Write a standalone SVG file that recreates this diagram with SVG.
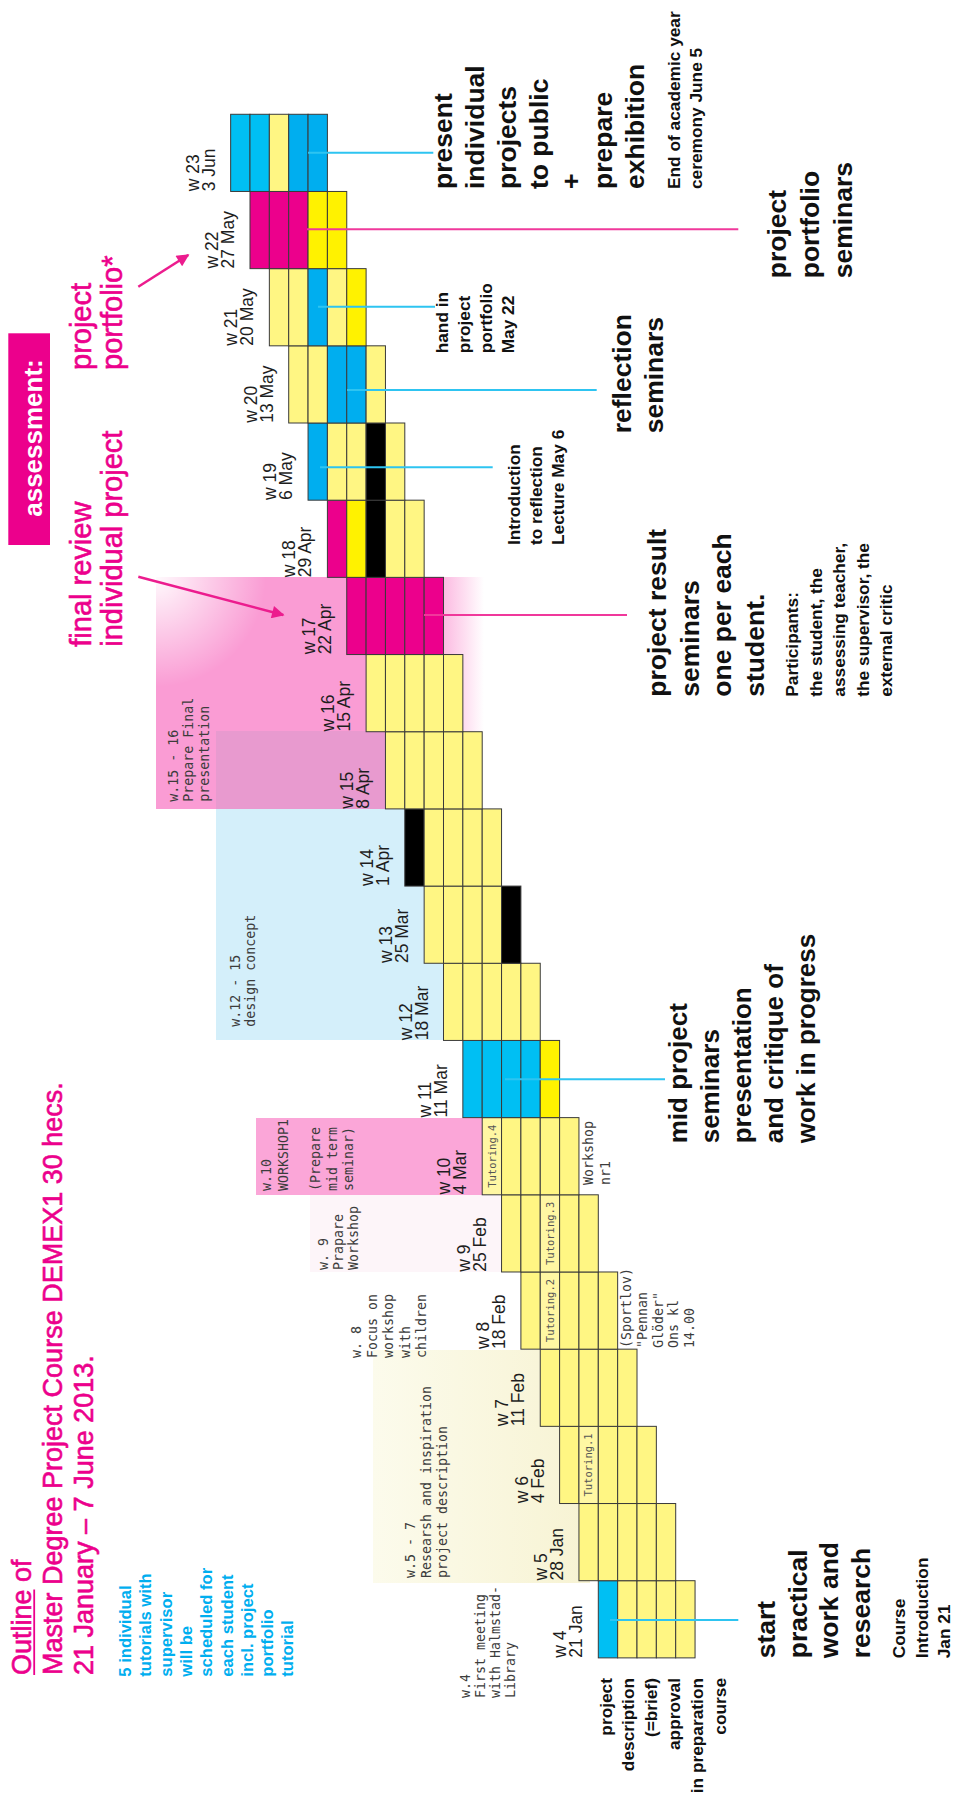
<svg xmlns="http://www.w3.org/2000/svg" width="953" height="1803" viewBox="0 0 953 1803">
<defs>
<style>
.c{stroke:#3a3a3a;stroke-width:1}
.ly{fill:#FFF683}.by{fill:#FFF200}.mg{fill:#EC008C}.cy{fill:#00BFF3}.bl{fill:#00AEEF}.bk{fill:#000}.tu{fill:#FFF7A3}
.wk{font-family:"Liberation Sans",Arial,sans-serif;font-size:17.5px;fill:#1e1e1e}
.mono{font-family:"DejaVu Sans Mono","Liberation Mono",monospace;font-size:13.3px;fill:#3c3c3c}
.tut{font-family:"DejaVu Sans Mono","Liberation Mono",monospace;font-size:10.5px;fill:#555;text-anchor:middle}
.big{font-family:"Liberation Sans",Arial,sans-serif;font-weight:bold;font-size:26.5px;fill:#111}
.sm{font-family:"Liberation Sans",Arial,sans-serif;font-weight:bold;font-size:17.3px;fill:#111}
.mag{font-family:"Liberation Sans",Arial,sans-serif;font-size:29px;fill:#EC008C;stroke:#EC008C;stroke-width:0.6}
.ttl{font-family:"Liberation Sans",Arial,sans-serif;font-size:27px;fill:#EC008C;stroke:#EC008C;stroke-width:0.6}
.blu{font-family:"Liberation Sans",Arial,sans-serif;font-weight:bold;font-size:16.6px;fill:#00AEEF}
.cc{stroke:#2EC4F1;stroke-width:2;fill:none}
.cm{stroke:#F0389B;stroke-width:2;fill:none}
.arr{stroke:#EC1C8E;stroke-width:2.5;fill:none}
</style>
<linearGradient id="pinkFade" gradientUnits="userSpaceOnUse" x1="156" y1="0" x2="484" y2="0">
<stop offset="0" stop-color="#FA9CD4"/>
<stop offset="0.82" stop-color="#FA9CD4"/>
<stop offset="1" stop-color="#FA9CD4" stop-opacity="0"/>
</linearGradient>
<radialGradient id="glow" gradientUnits="userSpaceOnUse" cx="156" cy="577" r="110">
<stop offset="0" stop-color="#fff" stop-opacity="0.95"/>
<stop offset="1" stop-color="#fff" stop-opacity="0"/>
</radialGradient>
<linearGradient id="cream" gradientUnits="userSpaceOnUse" x1="373" y1="0" x2="590" y2="0">
<stop offset="0" stop-color="#FCFBEC"/>
<stop offset="1" stop-color="#F7F3D3"/>
</linearGradient>
<marker id="ah" viewBox="0 0 10 10" refX="9" refY="5" markerWidth="6.5" markerHeight="5" orient="auto">
<path d="M0,0 L10,5 L0,10 Z" fill="#EC1C8E"/>
</marker>
</defs>
<rect width="953" height="1803" fill="#fff"/>

<g id="panels">
<rect x="216" y="731" width="229" height="309" fill="#D4EFFA"/>
<rect x="156" y="577" width="328" height="232" fill="url(#pinkFade)"/>
<rect x="156" y="577" width="180" height="150" fill="url(#glow)"/>
<rect x="216" y="731" width="229" height="78" fill="#E89ACF"/>
<rect x="256" y="1118" width="227" height="77" fill="#FBA6D8"/>
<rect x="310" y="1195" width="192" height="77" fill="#FDF5F9"/>
<rect x="373" y="1350" width="217" height="233" fill="url(#cream)"/>
</g>

<g id="panel-notes">
<text class="mono" transform="translate(178,801.7) rotate(-90)"><tspan x="0" y="0">w.15 - 16</tspan><tspan x="0" y="15">Prepare Final</tspan><tspan x="0" y="31">presentation</tspan></text>
<text class="mono" transform="translate(240,1026.7) rotate(-90)"><tspan x="0" y="0">w.12 - 15</tspan><tspan x="0" y="14.5">design concept</tspan></text>
<text class="mono" transform="translate(271,1191) rotate(-90)"><tspan x="0" y="0">w.10</tspan><tspan x="0" y="16.5">WORKSHOP1</tspan><tspan x="0" y="49">(Prepare</tspan><tspan x="0" y="65.5">mid term</tspan><tspan x="0" y="82">seminar)</tspan></text>
<text class="mono" transform="translate(328,1270) rotate(-90)"><tspan x="0" y="0">w. 9</tspan><tspan x="0" y="15">Prapare</tspan><tspan x="0" y="30">Workshop</tspan></text>
<text class="mono" transform="translate(361,1358) rotate(-90)"><tspan x="0" y="0">w. 8</tspan><tspan x="0" y="16.2">Focus on</tspan><tspan x="0" y="32.4">workshop</tspan><tspan x="0" y="48.6">with</tspan><tspan x="0" y="64.8">children</tspan></text>
<text class="mono" transform="translate(415,1578) rotate(-90)"><tspan x="0" y="0">w.5 - 7</tspan><tspan x="0" y="16">Researsh and inspiration</tspan><tspan x="0" y="32">project description</tspan></text>
<text class="mono" transform="translate(470,1698) rotate(-90)"><tspan x="0" y="0">w.4</tspan><tspan x="0" y="15">First meeting</tspan><tspan x="0" y="30">with Halmstad-</tspan><tspan x="0" y="45">Library</tspan></text>
<text class="mono" transform="translate(593,1185) rotate(-90)"><tspan x="0" y="0">Workshop</tspan><tspan x="0" y="17">nr1</tspan></text>
<text class="mono" transform="translate(631,1348) rotate(-90)"><tspan x="0" y="0">(Sportlov)</tspan><tspan x="0" y="15.8">"Pennan</tspan><tspan x="0" y="31.6">Glöder"</tspan><tspan x="0" y="47.4">Ons kl</tspan><tspan x="0" y="63.2">14.00</tspan></text>
</g>

<g id="w4" transform="translate(598.3,1580.7)">
<rect class="c cy" x="0" y="0" width="19.35" height="77.18"/><rect class="c ly" x="19.35" y="0" width="19.35" height="77.18"/><rect class="c ly" x="38.7" y="0" width="19.35" height="77.18"/><rect class="c ly" x="58.05" y="0" width="19.35" height="77.18"/><rect class="c ly" x="77.4" y="0" width="19.35" height="77.18"/>
<text class="wk" transform="translate(-32,77) rotate(-90)">w 4</text><text class="wk" transform="translate(-16,77) rotate(-90)">21 Jan</text>
</g>
<g id="w5" transform="translate(578.95,1503.52)">
<rect class="c ly" x="0" y="0" width="19.35" height="77.18"/><rect class="c ly" x="19.35" y="0" width="19.35" height="77.18"/><rect class="c ly" x="38.7" y="0" width="19.35" height="77.18"/><rect class="c ly" x="58.05" y="0" width="19.35" height="77.18"/><rect class="c ly" x="77.4" y="0" width="19.35" height="77.18"/>
<text class="wk" transform="translate(-32,77) rotate(-90)">w 5</text><text class="wk" transform="translate(-16,77) rotate(-90)">28 Jan</text>
</g>
<g id="w6" transform="translate(559.6,1426.34)">
<rect class="c ly" x="0" y="0" width="19.35" height="77.18"/><rect class="c tu" x="19.35" y="0" width="19.35" height="77.18"/><rect class="c ly" x="38.7" y="0" width="19.35" height="77.18"/><rect class="c ly" x="58.05" y="0" width="19.35" height="77.18"/><rect class="c ly" x="77.4" y="0" width="19.35" height="77.18"/>
<text class="tut" transform="translate(32.7,38.6) rotate(-90)">Tutoring.1</text>
<text class="wk" transform="translate(-32,77) rotate(-90)">w 6</text><text class="wk" transform="translate(-16,77) rotate(-90)">4 Feb</text>
</g>
<g id="w7" transform="translate(540.25,1349.16)">
<rect class="c ly" x="0" y="0" width="19.35" height="77.18"/><rect class="c ly" x="19.35" y="0" width="19.35" height="77.18"/><rect class="c ly" x="38.7" y="0" width="19.35" height="77.18"/><rect class="c ly" x="58.05" y="0" width="19.35" height="77.18"/><rect class="c ly" x="77.4" y="0" width="19.35" height="77.18"/>
<text class="wk" transform="translate(-32,77) rotate(-90)">w 7</text><text class="wk" transform="translate(-16,77) rotate(-90)">11 Feb</text>
</g>
<g id="w8" transform="translate(520.9,1271.98)">
<rect class="c ly" x="0" y="0" width="19.35" height="77.18"/><rect class="c tu" x="19.35" y="0" width="19.35" height="77.18"/><rect class="c ly" x="38.7" y="0" width="19.35" height="77.18"/><rect class="c ly" x="58.05" y="0" width="19.35" height="77.18"/><rect class="c ly" x="77.4" y="0" width="19.35" height="77.18"/>
<text class="tut" transform="translate(32.7,38.6) rotate(-90)">Tutoring.2</text>
<text class="wk" transform="translate(-32,77) rotate(-90)">w 8</text><text class="wk" transform="translate(-16,77) rotate(-90)">18 Feb</text>
</g>
<g id="w9" transform="translate(501.55,1194.8)">
<rect class="c ly" x="0" y="0" width="19.35" height="77.18"/><rect class="c ly" x="19.35" y="0" width="19.35" height="77.18"/><rect class="c tu" x="38.7" y="0" width="19.35" height="77.18"/><rect class="c ly" x="58.05" y="0" width="19.35" height="77.18"/><rect class="c ly" x="77.4" y="0" width="19.35" height="77.18"/>
<text class="tut" transform="translate(52.1,38.6) rotate(-90)">Tutoring.3</text>
<text class="wk" transform="translate(-32,77) rotate(-90)">w 9</text><text class="wk" transform="translate(-16,77) rotate(-90)">25 Feb</text>
</g>
<g id="w10" transform="translate(482.2,1117.62)">
<rect class="c tu" x="0" y="0" width="19.35" height="77.18"/><rect class="c ly" x="19.35" y="0" width="19.35" height="77.18"/><rect class="c ly" x="38.7" y="0" width="19.35" height="77.18"/><rect class="c ly" x="58.05" y="0" width="19.35" height="77.18"/><rect class="c ly" x="77.4" y="0" width="19.35" height="77.18"/>
<text class="tut" transform="translate(13.4,38.6) rotate(-90)">Tutoring.4</text>
<text class="wk" transform="translate(-32,77) rotate(-90)">w 10</text><text class="wk" transform="translate(-16,77) rotate(-90)">4 Mar</text>
</g>
<g id="w11" transform="translate(462.85,1040.44)">
<rect class="c cy" x="0" y="0" width="19.35" height="77.18"/><rect class="c cy" x="19.35" y="0" width="19.35" height="77.18"/><rect class="c cy" x="38.7" y="0" width="19.35" height="77.18"/><rect class="c cy" x="58.05" y="0" width="19.35" height="77.18"/><rect class="c by" x="77.4" y="0" width="19.35" height="77.18"/>
<text class="wk" transform="translate(-32,77) rotate(-90)">w 11</text><text class="wk" transform="translate(-16,77) rotate(-90)">11 Mar</text>
</g>
<g id="w12" transform="translate(443.5,963.26)">
<rect class="c ly" x="0" y="0" width="19.35" height="77.18"/><rect class="c ly" x="19.35" y="0" width="19.35" height="77.18"/><rect class="c ly" x="38.7" y="0" width="19.35" height="77.18"/><rect class="c ly" x="58.05" y="0" width="19.35" height="77.18"/><rect class="c ly" x="77.4" y="0" width="19.35" height="77.18"/>
<text class="wk" transform="translate(-32,77) rotate(-90)">w 12</text><text class="wk" transform="translate(-16,77) rotate(-90)">18 Mar</text>
</g>
<g id="w13" transform="translate(424.15,886.08)">
<rect class="c ly" x="0" y="0" width="19.35" height="77.18"/><rect class="c ly" x="19.35" y="0" width="19.35" height="77.18"/><rect class="c ly" x="38.7" y="0" width="19.35" height="77.18"/><rect class="c ly" x="58.05" y="0" width="19.35" height="77.18"/><rect class="c bk" x="77.4" y="0" width="19.35" height="77.18"/>
<text class="wk" transform="translate(-32,77) rotate(-90)">w 13</text><text class="wk" transform="translate(-16,77) rotate(-90)">25 Mar</text>
</g>
<g id="w14" transform="translate(404.8,808.9)">
<rect class="c bk" x="0" y="0" width="19.35" height="77.18"/><rect class="c ly" x="19.35" y="0" width="19.35" height="77.18"/><rect class="c ly" x="38.7" y="0" width="19.35" height="77.18"/><rect class="c ly" x="58.05" y="0" width="19.35" height="77.18"/><rect class="c ly" x="77.4" y="0" width="19.35" height="77.18"/>
<text class="wk" transform="translate(-32,77) rotate(-90)">w 14</text><text class="wk" transform="translate(-16,77) rotate(-90)">1 Apr</text>
</g>
<g id="w15" transform="translate(385.45,731.72)">
<rect class="c ly" x="0" y="0" width="19.35" height="77.18"/><rect class="c ly" x="19.35" y="0" width="19.35" height="77.18"/><rect class="c ly" x="38.7" y="0" width="19.35" height="77.18"/><rect class="c ly" x="58.05" y="0" width="19.35" height="77.18"/><rect class="c ly" x="77.4" y="0" width="19.35" height="77.18"/>
<text class="wk" transform="translate(-32,77) rotate(-90)">w 15</text><text class="wk" transform="translate(-16,77) rotate(-90)">8 Apr</text>
</g>
<g id="w16" transform="translate(366.1,654.54)">
<rect class="c ly" x="0" y="0" width="19.35" height="77.18"/><rect class="c ly" x="19.35" y="0" width="19.35" height="77.18"/><rect class="c ly" x="38.7" y="0" width="19.35" height="77.18"/><rect class="c ly" x="58.05" y="0" width="19.35" height="77.18"/><rect class="c ly" x="77.4" y="0" width="19.35" height="77.18"/>
<text class="wk" transform="translate(-32,77) rotate(-90)">w 16</text><text class="wk" transform="translate(-16,77) rotate(-90)">15 Apr</text>
</g>
<g id="w17" transform="translate(346.75,577.36)">
<rect class="c mg" x="0" y="0" width="19.35" height="77.18"/><rect class="c mg" x="19.35" y="0" width="19.35" height="77.18"/><rect class="c mg" x="38.7" y="0" width="19.35" height="77.18"/><rect class="c mg" x="58.05" y="0" width="19.35" height="77.18"/><rect class="c mg" x="77.4" y="0" width="19.35" height="77.18"/>
<text class="wk" transform="translate(-32,77) rotate(-90)">w 17</text><text class="wk" transform="translate(-16,77) rotate(-90)">22 Apr</text>
</g>
<g id="w18" transform="translate(327.4,500.18)">
<rect class="c mg" x="0" y="0" width="19.35" height="77.18"/><rect class="c by" x="19.35" y="0" width="19.35" height="77.18"/><rect class="c bk" x="38.7" y="0" width="19.35" height="77.18"/><rect class="c ly" x="58.05" y="0" width="19.35" height="77.18"/><rect class="c ly" x="77.4" y="0" width="19.35" height="77.18"/>
<text class="wk" transform="translate(-32,77) rotate(-90)">w 18</text><text class="wk" transform="translate(-16,77) rotate(-90)">29 Apr</text>
</g>
<g id="w19" transform="translate(308.05,423)">
<rect class="c bl" x="0" y="0" width="19.35" height="77.18"/><rect class="c ly" x="19.35" y="0" width="19.35" height="77.18"/><rect class="c ly" x="38.7" y="0" width="19.35" height="77.18"/><rect class="c bk" x="58.05" y="0" width="19.35" height="77.18"/><rect class="c ly" x="77.4" y="0" width="19.35" height="77.18"/>
<text class="wk" transform="translate(-32,77) rotate(-90)">w 19</text><text class="wk" transform="translate(-16,77) rotate(-90)">6 May</text>
</g>
<g id="w20" transform="translate(288.7,345.82)">
<rect class="c ly" x="0" y="0" width="19.35" height="77.18"/><rect class="c ly" x="19.35" y="0" width="19.35" height="77.18"/><rect class="c bl" x="38.7" y="0" width="19.35" height="77.18"/><rect class="c bl" x="58.05" y="0" width="19.35" height="77.18"/><rect class="c ly" x="77.4" y="0" width="19.35" height="77.18"/>
<text class="wk" transform="translate(-32,77) rotate(-90)">w 20</text><text class="wk" transform="translate(-16,77) rotate(-90)">13 May</text>
</g>
<g id="w21" transform="translate(269.35,268.64)">
<rect class="c ly" x="0" y="0" width="19.35" height="77.18"/><rect class="c ly" x="19.35" y="0" width="19.35" height="77.18"/><rect class="c bl" x="38.7" y="0" width="19.35" height="77.18"/><rect class="c ly" x="58.05" y="0" width="19.35" height="77.18"/><rect class="c by" x="77.4" y="0" width="19.35" height="77.18"/>
<text class="wk" transform="translate(-32,77) rotate(-90)">w 21</text><text class="wk" transform="translate(-16,77) rotate(-90)">20 May</text>
</g>
<g id="w22" transform="translate(250,191.46)">
<rect class="c mg" x="0" y="0" width="19.35" height="77.18"/><rect class="c mg" x="19.35" y="0" width="19.35" height="77.18"/><rect class="c mg" x="38.7" y="0" width="19.35" height="77.18"/><rect class="c by" x="58.05" y="0" width="19.35" height="77.18"/><rect class="c by" x="77.4" y="0" width="19.35" height="77.18"/>
<text class="wk" transform="translate(-32,77) rotate(-90)">w 22</text><text class="wk" transform="translate(-16,77) rotate(-90)">27 May</text>
</g>
<g id="w23" transform="translate(230.65,114.28)">
<rect class="c cy" x="0" y="0" width="19.35" height="77.18"/><rect class="c cy" x="19.35" y="0" width="19.35" height="77.18"/><rect class="c ly" x="38.7" y="0" width="19.35" height="77.18"/><rect class="c bl" x="58.05" y="0" width="19.35" height="77.18"/><rect class="c bl" x="77.4" y="0" width="19.35" height="77.18"/>
<text class="wk" transform="translate(-32,77) rotate(-90)">w 23</text><text class="wk" transform="translate(-16,77) rotate(-90)">3 Jun</text>
</g>

<g id="connectors">
<line class="cc" x1="308" y1="152.7" x2="433.3" y2="152.7"/>
<line class="cm" x1="307" y1="229.3" x2="738.3" y2="229.3"/>
<line class="cc" x1="318" y1="306.7" x2="435" y2="306.7"/>
<line class="cc" x1="347" y1="390" x2="596.7" y2="390"/>
<line class="cc" x1="320" y1="467.3" x2="492.7" y2="467.3"/>
<line class="cm" x1="424" y1="615" x2="627" y2="615"/>
<line class="cc" x1="505" y1="1079.3" x2="665" y2="1079.3"/>
<line class="cc" x1="610" y1="1620" x2="738.3" y2="1620"/>
<line class="arr" x1="138.3" y1="576.7" x2="283.3" y2="615" marker-end="url(#ah)"/>
<line class="arr" x1="138.3" y1="286.7" x2="188.3" y2="255" marker-end="url(#ah)"/>
</g>

<g id="title">
<g transform="translate(31,1675) rotate(-90)">
<text class="ttl"><tspan x="0" y="0">Outline of</tspan><tspan x="0" y="31">Master Degree Project Course DEMEX1 30 hecs.</tspan><tspan x="0" y="62">21 January – 7 June 2013.</tspan></text>
<rect x="0" y="2.3" width="85.5" height="1.8" fill="#EC008C"/>
</g>
</g>

<g id="tutorial-note">
<text class="blu" transform="translate(131,1676.7) rotate(-90)"><tspan x="0" y="0">5 individual</tspan><tspan x="0" y="20.3">tutorials with</tspan><tspan x="0" y="40.6">supervisor</tspan><tspan x="0" y="60.9">will be</tspan><tspan x="0" y="81.2">scheduled for</tspan><tspan x="0" y="101.5">each student</tspan><tspan x="0" y="121.8">incl. project</tspan><tspan x="0" y="142.1">portfolio</tspan><tspan x="0" y="162.4">tutorial</tspan></text>
</g>

<g id="assessment">
<rect x="8.3" y="333.3" width="41.7" height="211.7" fill="#EC008C"/>
<text transform="translate(41.5,438) rotate(-90)" text-anchor="middle" font-family="Liberation Sans, Arial, sans-serif" font-weight="bold" font-size="26px" fill="#fff">assessment:</text>
</g>

<g id="final-review">
<text class="mag" transform="translate(91,646.7) rotate(-90)"><tspan x="0" y="0">final review</tspan><tspan x="0" y="31">individual project</tspan></text>
</g>
<g id="project-portfolio">
<text class="mag" transform="translate(91,370) rotate(-90)"><tspan x="0" y="0">project</tspan><tspan x="0" y="31">portfolio*</tspan></text>
</g>

<g id="prep-label">
<text class="sm" transform="translate(611.5,1678) rotate(-90)" text-anchor="end"><tspan x="0" y="0">project</tspan><tspan x="0" y="22.8">description</tspan><tspan x="0" y="45.6">(=brief)</tspan><tspan x="0" y="68.4">approval</tspan><tspan x="0" y="91.2">in preparation</tspan><tspan x="0" y="114">course</tspan></text>
</g>

<g id="present">
<text class="big" transform="translate(452,189) rotate(-90)"><tspan x="0" y="0">present</tspan><tspan x="0" y="32">individual</tspan><tspan x="0" y="64">projects</tspan><tspan x="0" y="96">to public</tspan><tspan x="0" y="128">+</tspan><tspan x="0" y="160">prepare</tspan><tspan x="0" y="192">exhibition</tspan></text>
<text class="sm" transform="translate(680,189) rotate(-90)"><tspan x="0" y="0">End of academic year</tspan><tspan x="0" y="22">ceremony June 5</tspan></text>
</g>
<g id="hand-in">
<text class="sm" transform="translate(448,353.3) rotate(-90)"><tspan x="0" y="0">hand in</tspan><tspan x="0" y="22">project</tspan><tspan x="0" y="44">portfolio</tspan><tspan x="0" y="66">May 22</tspan></text>
</g>
<g id="portfolio-seminars">
<text class="big" transform="translate(786,278.3) rotate(-90)"><tspan x="0" y="0">project</tspan><tspan x="0" y="33">portfolio</tspan><tspan x="0" y="66">seminars</tspan></text>
</g>
<g id="reflection">
<text class="big" transform="translate(631,433.3) rotate(-90)"><tspan x="0" y="0">reflection</tspan><tspan x="0" y="32">seminars</tspan></text>
</g>
<g id="introduction">
<text class="sm" transform="translate(520,545) rotate(-90)"><tspan x="0" y="0">Introduction</tspan><tspan x="0" y="22">to reflection</tspan><tspan x="0" y="44">Lecture May 6</tspan></text>
</g>
<g id="result-seminars">
<text class="big" transform="translate(666,696.7) rotate(-90)"><tspan x="0" y="0">project result</tspan><tspan x="0" y="32.5">seminars</tspan><tspan x="0" y="65">one per each</tspan><tspan x="0" y="97.5">student.</tspan></text>
<text class="sm" transform="translate(798,696.7) rotate(-90)"><tspan x="0" y="0">Participants:</tspan><tspan x="0" y="23.5">the student, the</tspan><tspan x="0" y="47">assessing teacher,</tspan><tspan x="0" y="70.5">the supervisor, the</tspan><tspan x="0" y="94">external critic</tspan></text>
</g>
<g id="mid-project">
<text class="big" transform="translate(687,1143.3) rotate(-90)" style="font-size:26px"><tspan x="0" y="0">mid project</tspan><tspan x="0" y="32">seminars</tspan><tspan x="0" y="64">presentation</tspan><tspan x="0" y="96">and critique of</tspan><tspan x="0" y="128">work in progress</tspan></text>
</g>
<g id="start">
<text class="big" transform="translate(775,1658.3) rotate(-90)"><tspan x="0" y="0">start</tspan><tspan x="0" y="31.7">practical</tspan><tspan x="0" y="63.3">work and</tspan><tspan x="0" y="95">research</tspan></text>
<text class="sm" transform="translate(905,1658.3) rotate(-90)"><tspan x="0" y="0">Course</tspan><tspan x="0" y="22.5">Introduction</tspan><tspan x="0" y="45">Jan 21</tspan></text>
</g>
</svg>
